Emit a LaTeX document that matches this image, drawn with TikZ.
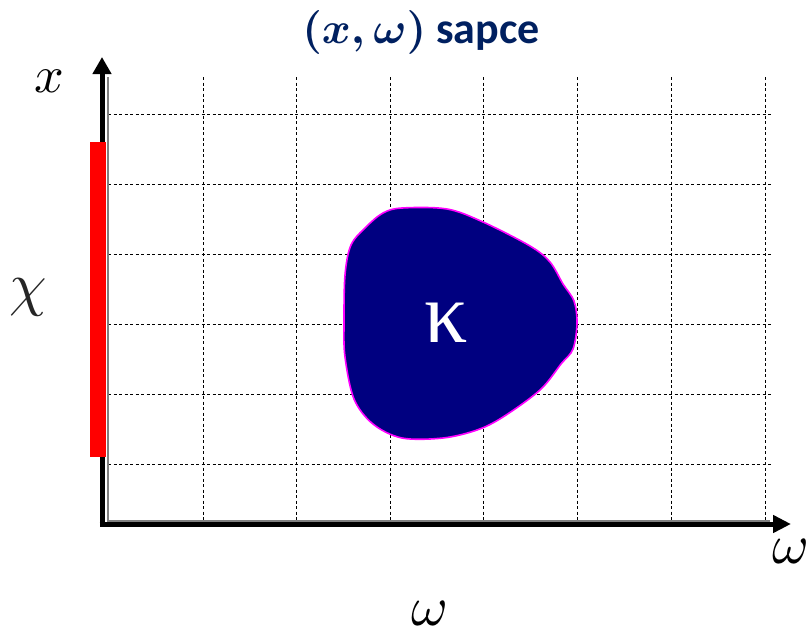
\documentclass[tikz,border=0pt]{standalone}
\usepackage{graphicx}
\usepackage{fontspec}
\newfontfamily\carl{Carlito}
\newfontfamily\libser{Liberation Serif}
\usetikzlibrary{arrows.meta}
\definecolor{titlenavy}{RGB}{0,32,96}
\definecolor{blobnavy}{RGB}{0,0,128}
\definecolor{blobedge}{RGB}{255,0,255}
\tikzset{
  gridline/.style={black, line width=0.8pt, dash pattern=on 3pt off 2.5pt},
  gridborder/.style={gray, line width=1.2pt},
  axisline/.style={black, line width=5pt},
  mathlabel/.style={inner sep=0pt},
}
\begin{document}
\begin{tikzpicture}[x=1pt,y=-1pt]
\useasboundingbox (0,0) rectangle (810,634);
% coordinates
\coordinate (O) at (102,524);
\coordinate (ytop) at (102,57);
\coordinate (xend) at (791,524);
% grid
\foreach \gx in {203,296,390,483,577,671,765}
  \draw[gridline] (\gx,77) -- (\gx,521);
\foreach \gy in {114,184,254,324,394,464}
  \draw[gridline] (108,\gy) -- (773,\gy);
\draw[gridborder] (108,77) -- (108,521) -- (770,521);
% axes
\draw[axisline, -{Triangle[length=17pt,width=18pt]}] (102,526.5) -- (ytop);
\draw[axisline, -{Triangle[length=18pt,width=17pt]}] (99.5,524) -- (xend);
% red interval
\fill[red] (90,142) rectangle (106,457);
% region
\draw[blobedge, line width=1.6pt, fill=blobnavy] plot[smooth cycle, tension=0.55] coordinates {
  (402,208) (447,209) (483,222) (530,246) (550,262) (563,284) (574,301)
  (577,323) (573,349) (561,364) (540,390) (503,417) (477,430) (443,438)
  (402,438) (373,424) (354,399) (345,357) (344,323) (345,275) (351,245)
  (366,227) (383,213)};
\node[text=white, inner sep=0pt] (kappa) at (446,323) {\libser\fontsize{86}{86}\selectfont κ};
% title
\node[text=titlenavy, anchor=base, inner sep=0pt] (title) at (421,44)
  {\scalebox{4.4}{\boldmath$(x,\omega)$}{\carl\bfseries\fontsize{44}{44}\selectfont\ sapce}};
% labels
\node[mathlabel] (xlab) at (49,81) {\scalebox{5.2}{$x$}};
\node[mathlabel, text=black!85] (chilab) at (28,297) {\scalebox{6}{$\chi$}};
\node[mathlabel] (wlab) at (791,551) {\scalebox{5.6}{$\omega$}};
\node[mathlabel] (wlab2) at (430,613) {\scalebox{5.6}{$\omega$}};
\end{tikzpicture}
\end{document}
